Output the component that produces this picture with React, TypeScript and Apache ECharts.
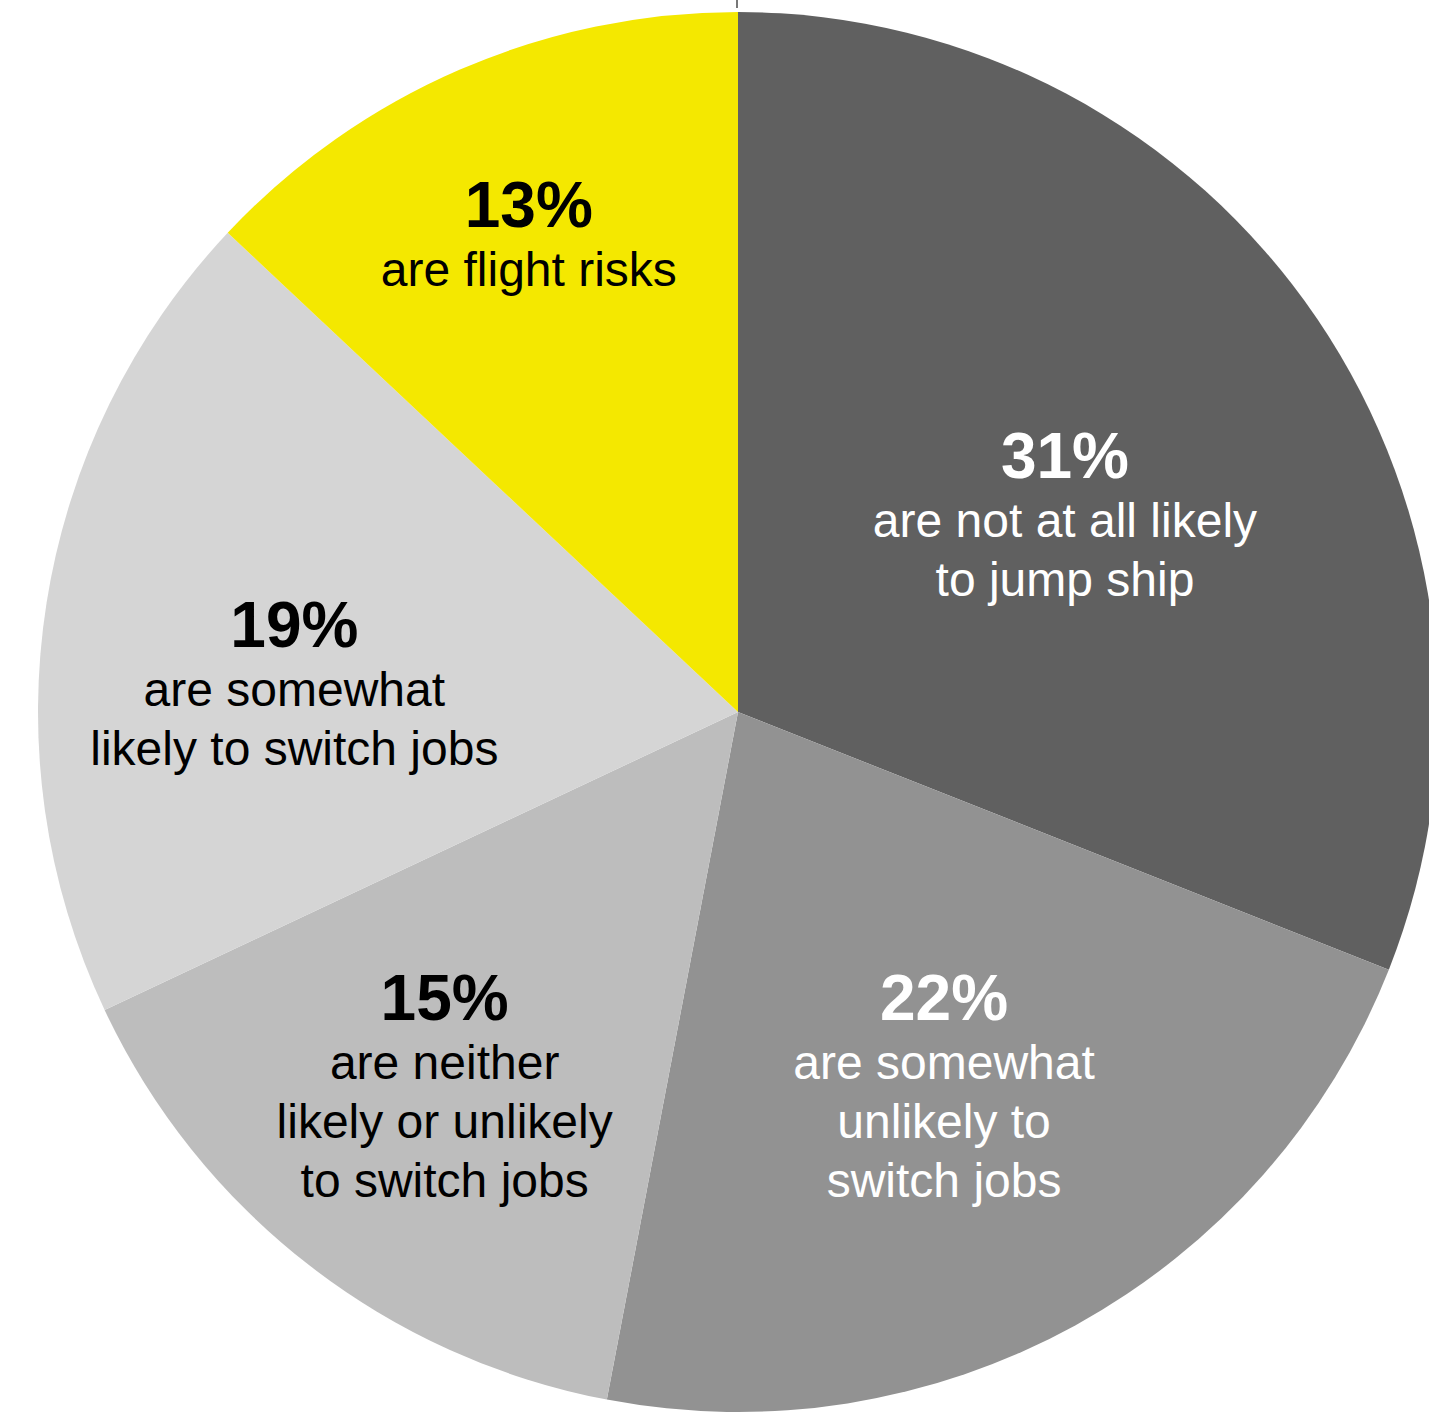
import React, { useEffect, useRef } from "react";
import * as echarts from "echarts";

const percents = [31, 22, 15, 19, 13];
const descriptions = [
  "are not at all likely\nto jump ship",
  "are somewhat\nunlikely to\nswitch jobs",
  "are neither\nlikely or unlikely\nto switch jobs",
  "are somewhat\nlikely to switch jobs",
  "are flight risks",
];
const sliceColors = ["#606060", "#929292", "#bdbdbd", "#d5d5d5", "#f4e800"];
const textColors = ["#ffffff", "#ffffff", "#000000", "#000000", "#000000"];
const labelOffsets = [
  [35, 1],
  [36, 65],
  [-77, 96],
  [-95, 27],
  [-69, -154],
];

export default function App() {
  const ref = useRef<HTMLDivElement>(null);
  useEffect(() => {
    if (!ref.current) return;
    const chart = echarts.init(ref.current, null, { renderer: "svg" });
    const font = "'Liberation Sans', Arial, Helvetica, sans-serif";
    chart.setOption({
      animation: false,
      backgroundColor: "#ffffff",
      graphic: [
        {
          type: "line",
          shape: { x1: 737, y1: 0, x2: 737, y2: 8 },
          style: { stroke: "#777777", lineWidth: 2 },
        },
      ],
      series: [
        {
          type: "pie",
          center: [738, 712],
          radius: [0, 700],
          startAngle: 90,
          clockwise: true,
          silent: true,
          itemStyle: { borderWidth: 0 },
          labelLine: { show: false },
          labelLayout: (params: any) => {
            const o = labelOffsets[params.dataIndex];
            return { dx: o[0], dy: o[1] };
          },
          data: percents.map((v, i) => ({
            value: v,
            name: descriptions[i],
            itemStyle: { color: sliceColors[i] },
            label: {
              show: true,
              position: "inside",
              align: "center",
              formatter: () => `{b|${v}%}\n{t|${descriptions[i].split("\n").join("}\n{t|")}}`,
              rich: {
                b: {
                  fontFamily: font,
                  fontWeight: "bold",
                  fontSize: 64,
                  lineHeight: 70,
                  color: textColors[i],
                  align: "center",
                },
                t: {
                  fontFamily: font,
                  fontSize: 48,
                  lineHeight: 59,
                  color: textColors[i],
                  align: "center",
                },
              },
            },
          })),
        },
      ],
    });
    return () => chart.dispose();
  }, []);
  return (
    <div
      ref={ref}
      style={{ position: "fixed", left: 0, top: 0, width: 1429, height: 1412 }}
    />
  );
}
